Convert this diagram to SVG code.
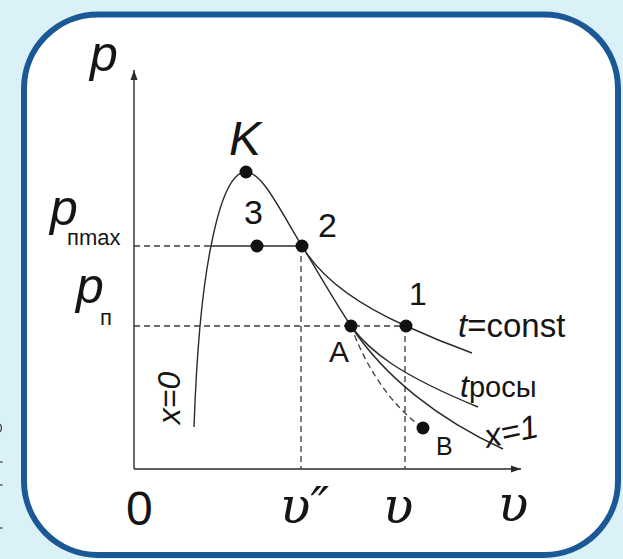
<svg xmlns="http://www.w3.org/2000/svg" width="623" height="559" viewBox="0 0 623 559">
<style>
.ln{fill:none;stroke:#2a2a2a;stroke-width:1.4}
.ds{fill:none;stroke:#3a3a3a;stroke-width:1.3;stroke-dasharray:6,4}
.dot{fill:#111}
.t{font-family:"Liberation Sans",Arial,sans-serif;fill:#151515}
.i{font-style:italic}
.u{font-family:"DejaVu Serif","Liberation Serif",serif;font-style:italic;fill:#151515}
</style>
<defs>
<marker id="ar" viewBox="0 0 10 10" refX="10" refY="5" markerWidth="10" markerHeight="10" markerUnits="userSpaceOnUse" orient="auto">
<path d="M0,1.5 L10,5 L0,8.5 Z" fill="#2a2a2a"/>
</marker>
</defs>
<rect x="0" y="0" width="623" height="559" fill="#daf1f7"/>
<rect id="frame" x="24" y="14.5" width="594" height="540.5" rx="74" ry="74" fill="#ffffff" stroke="#1b5996" stroke-width="6"/>
<g id="edge-marks" fill="none" stroke="#333" stroke-width="1.2">
<path d="M0,424 Q3,428 0,432"/>
<path d="M0,462 H2.5"/>
<path d="M0,485 H2.5"/>
<path d="M0,528 H2.5"/>
</g>
<g id="axes">
<line class="ln" x1="134" y1="469" x2="134" y2="70" marker-end="url(#ar)"/>
<line class="ln" x1="134" y1="469" x2="521" y2="469" marker-end="url(#ar)"/>
</g>
<g id="connectors">
<path class="ds" d="M134,246 H211"/>
<path class="ln" d="M211,246 H302"/>
<path class="ds" d="M134,326 H406"/>
<path class="ds" d="M301,246 V469"/>
<path class="ds" d="M405,326 V469"/>
<path id="x0-curve" class="ln" d="M194,427 C196,370 200,300 211,246 C220,200 232,172 246,172 C262,172 280,210 302,246"/>
<path id="x1-curve" class="ln" d="M302,246 C318,272 335,302 351,326 C385,378 440,420 503,449"/>
<path id="tconst-curve" class="ln" d="M302,246 C325,285 370,310 406,326 C430,337 450,345 472,353"/>
<path id="tros-curve" class="ln" d="M351,326 C370,352 400,375 478,407"/>
<path id="AB-curve" class="ds" d="M351,326 C365,365 390,405 423,428"/>
</g>
<g id="node-K"><circle class="dot" cx="246" cy="172" r="6.5"/><text class="t i" x="229" y="155" font-size="48">K</text></g>
<g id="node-3"><circle class="dot" cx="257" cy="246" r="6.5"/><text class="t" x="244" y="224" font-size="34">3</text></g>
<g id="node-2"><circle class="dot" cx="302" cy="246" r="6.5"/><text class="t" x="318" y="237" font-size="34">2</text></g>
<g id="node-A"><circle class="dot" cx="351" cy="326" r="6.5"/><text class="t" x="329" y="362" font-size="30">A</text></g>
<g id="node-1"><circle class="dot" cx="406" cy="326" r="6.5"/><text class="t" x="409" y="305" font-size="32">1</text></g>
<g id="node-B"><circle class="dot" cx="423" cy="428" r="6.5"/><text class="t" x="436" y="455" font-size="25">B</text></g>
<g id="labels">
<text class="t i" x="90" y="71" font-size="50">p</text>
<text class="t i" x="50" y="225" font-size="50">p</text>
<text class="t" x="67" y="245" font-size="22">пmax</text>
<text class="t i" x="76" y="303" font-size="50">p</text>
<text class="t" x="100" y="325" font-size="22">п</text>
<text class="t" x="458" y="337" font-size="33"><tspan class="i">t</tspan>=const</text>
<text class="t" x="460" y="397" font-size="32"><tspan class="i">t</tspan><tspan font-size="29">росы</tspan></text>
<text class="t i" x="487" y="448" font-size="33" transform="rotate(-12 487 448)">x=1</text>
<text class="t i" x="0" y="0" font-size="32" text-anchor="middle" transform="translate(180 398) rotate(-90)">x=0</text>
<text class="t" x="126" y="525" font-size="48">0</text>
<text class="u" x="280" y="523" font-size="50">υ″</text>
<text class="u" x="383" y="523" font-size="50">υ</text>
<text class="u" x="498" y="521" font-size="50">υ</text>
</g>
</svg>
